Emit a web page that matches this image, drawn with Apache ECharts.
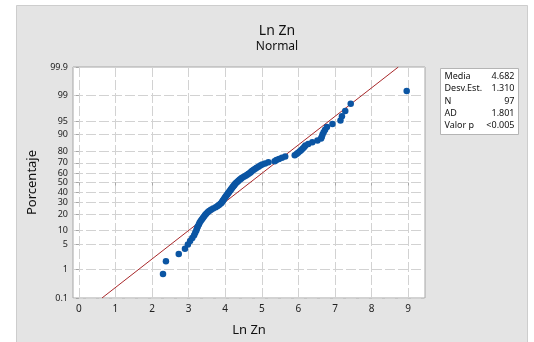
<!DOCTYPE html>
<html>
<head>
<meta charset="utf-8">
<script src="https://cdn.jsdelivr.net/npm/echarts@6/dist/echarts.min.js"></script>
<style>
  html, body { margin: 0; padding: 0; background: #ffffff; }
  #chart { width: 534px; height: 342px; }
</style>
</head>
<body>
<div id="chart"></div>
<script>
// Sorted Ln Zn observations (n = 97)
const lnZn = [
  2.30, 2.38, 2.73, 2.90, 2.98, 3.04, 3.10, 3.15, 3.18, 3.21,
  3.23, 3.25, 3.28, 3.30, 3.33, 3.36, 3.39, 3.42, 3.45, 3.48,
  3.52, 3.56, 3.61, 3.67, 3.74, 3.79, 3.83, 3.87, 3.90, 3.92,
  3.94, 3.96, 3.98, 4.00, 4.02, 4.04, 4.06, 4.08, 4.10, 4.12,
  4.14, 4.16, 4.18, 4.20, 4.22, 4.24, 4.26, 4.28, 4.31, 4.34,
  4.37, 4.40, 4.43, 4.46, 4.51, 4.56, 4.60, 4.64, 4.68, 4.71,
  4.74, 4.78, 4.82, 4.86, 4.91, 4.96, 5.01, 5.09, 5.18, 5.35,
  5.40, 5.47, 5.55, 5.64, 5.90, 5.95, 5.99, 6.04, 6.08, 6.12,
  6.16, 6.19, 6.27, 6.38, 6.52, 6.62, 6.64, 6.66, 6.69, 6.73,
  6.78, 6.93, 7.15, 7.19, 7.28, 7.43, 8.96
];

// Summary statistics shown in the side box
const statNames  = ['Media', 'Desv.Est.', 'N', 'AD', 'Valor p'];
const statValues = ['4.682', '1.310', '97', '1.801', '<0.005'];
const fitMean = 4.682;
const fitSd = 1.310;

// Probability-scale tick labels (percent) and x tick values
const pctTicks = [0.1, 1, 5, 10, 20, 30, 40, 50, 60, 70, 80, 90, 95, 99, 99.9];
const xTicks = [0, 1, 2, 3, 4, 5, 6, 7, 8, 9];

// Inverse standard normal CDF (Acklam's rational approximation)
function normInv(p) {
  const a = [-3.969683028665376e+01, 2.209460984245205e+02, -2.759285104469687e+02,
             1.383577518672690e+02, -3.066479806614716e+01, 2.506628277459239e+00];
  const b = [-5.447609879822406e+01, 1.615858368580409e+02, -1.556989798598866e+02,
             6.680131188771972e+01, -1.328068155288572e+01];
  const c = [-7.784894002430293e-03, -3.223964580411365e-01, -2.400758277161838e+00,
             -2.549671010115819e+00, 4.374664141464968e+00, 2.938163982698783e+00];
  const d = [7.784695709041462e-03, 3.224671290700398e-01, 2.445134137142996e+00,
             3.754408661907416e+00];
  const pl = 0.02425, ph = 1 - pl;
  let q, r;
  if (p < pl) {
    q = Math.sqrt(-2 * Math.log(p));
    return (((((c[0]*q+c[1])*q+c[2])*q+c[3])*q+c[4])*q+c[5]) /
           ((((d[0]*q+d[1])*q+d[2])*q+d[3])*q+1);
  }
  if (p <= ph) {
    q = p - 0.5; r = q * q;
    return (((((a[0]*r+a[1])*r+a[2])*r+a[3])*r+a[4])*r+a[5])*q /
           (((((b[0]*r+b[1])*r+b[2])*r+b[3])*r+b[4])*r+1);
  }
  q = Math.sqrt(-2 * Math.log(1 - p));
  return -(((((c[0]*q+c[1])*q+c[2])*q+c[3])*q+c[4])*q+c[5]) /
          ((((d[0]*q+d[1])*q+d[2])*q+d[3])*q+1);
}

// Median-rank plotting positions on the normal-score scale
const n = lnZn.length;
const points = lnZn.map((x, i) => [x, normInv((i + 1 - 0.3) / (n + 0.4))]);

const zLo = normInv(0.001);
const zHi = normInv(0.999);
const zTicks = pctTicks.map(p => Math.round(normInv(p / 100) * 1e6) / 1e6);
const zLabel = {};
pctTicks.forEach((p, i) => { zLabel[zTicks[i].toFixed(4)] = String(p); });

// Fitted normal line: x = mean + z * sd
const fitLine = [[fitMean + zLo * fitSd, zLo], [fitMean + zHi * fitSd, zHi]];

const FONT = '"Noto Sans", "DejaVu Sans", sans-serif';
const gridColor = '#d2d2d2';

const chart = echarts.init(document.getElementById('chart'), null, { renderer: 'canvas' });

const statRowH = 12.3;
const statChildren = [{
  type: 'rect',
  shape: { x: 0, y: 0, width: 78, height: 66 },
  style: { fill: '#ffffff', stroke: '#b4b4b4', lineWidth: 1 }
}];
statNames.forEach((name, i) => {
  statChildren.push({
    type: 'text', x: 4, y: 8 + i * statRowH,
    style: { text: name, fill: '#111', font: '9px ' + FONT, textVerticalAlign: 'middle', textAlign: 'left' }
  });
  statChildren.push({
    type: 'text', x: 74, y: 8 + i * statRowH,
    style: { text: statValues[i], fill: '#111', font: '9px ' + FONT, textVerticalAlign: 'middle', textAlign: 'right' }
  });
});

chart.setOption({
  backgroundColor: '#ffffff',
  animation: false,
  title: {
    text: 'Ln Zn',
    subtext: 'Normal',
    left: 272,
    textAlign: 'center',
    top: 19,
    itemGap: 3,
    textStyle: { fontFamily: FONT, fontSize: 14, fontWeight: 'normal', color: '#111' },
    subtextStyle: { fontFamily: FONT, fontSize: 12, color: '#111' }
  },
  graphic: [
    {
      type: 'rect', z: -10, silent: true,
      shape: { x: 16.5, y: 5.5, width: 511, height: 340 },
      style: { fill: '#e4e4e4', stroke: '#cdcdcd', lineWidth: 1 }
    },
    {
      type: 'group', left: 440, top: 68, z: 10,
      children: statChildren
    }
  ],
  grid: {
    left: 73, right: 109, top: 67, bottom: 43,
    show: true, backgroundColor: '#ffffff', borderColor: '#a6a6a6', borderWidth: 1
  },
  xAxis: {
    type: 'value',
    min: -0.16, max: 9.46,
    name: 'Ln Zn',
    nameLocation: 'middle',
    nameGap: 26,
    nameTextStyle: { fontFamily: FONT, fontSize: 13, color: '#111' },
    axisLine: { show: false },
    axisTick: { show: true, length: 3, lineStyle: { color: '#a6a6a6' }, customValues: xTicks },
    axisLabel: { fontFamily: FONT, fontSize: 10, color: '#222', margin: 6, customValues: xTicks },
    splitLine: { show: true, lineStyle: { color: gridColor, width: 1, type: [10, 3] } }
  },
  yAxis: {
    type: 'value',
    min: zLo - 0.001, max: zHi + 0.001,
    name: 'Porcentaje',
    nameLocation: 'middle',
    nameGap: 30,
    nameRotate: 90,
    nameTextStyle: { fontFamily: FONT, fontSize: 13, color: '#111' },
    axisLine: { show: false },
    axisTick: { show: true, length: 3, lineStyle: { color: '#a6a6a6' }, customValues: zTicks },
    axisLabel: {
      fontFamily: FONT, fontSize: 9, color: '#222', margin: 5,
      showMinLabel: true, showMaxLabel: true,
      customValues: zTicks,
      formatter: v => zLabel[Number(v).toFixed(4)] || ''
    },
    splitLine: { show: true, lineStyle: { color: gridColor, width: 1, type: [10, 3] } }
  },
  series: [
    {
      type: 'line',
      data: fitLine,
      symbol: 'none',
      clip: true,
      z: 3,
      lineStyle: { color: '#a8282a', width: 1 }
    },
    {
      type: 'scatter',
      data: points,
      symbol: 'circle',
      symbolSize: 6.5,
      z: 4,
      itemStyle: { color: '#0b55a3', opacity: 1 }
    }
  ]
});
</script>
</body>
</html>
